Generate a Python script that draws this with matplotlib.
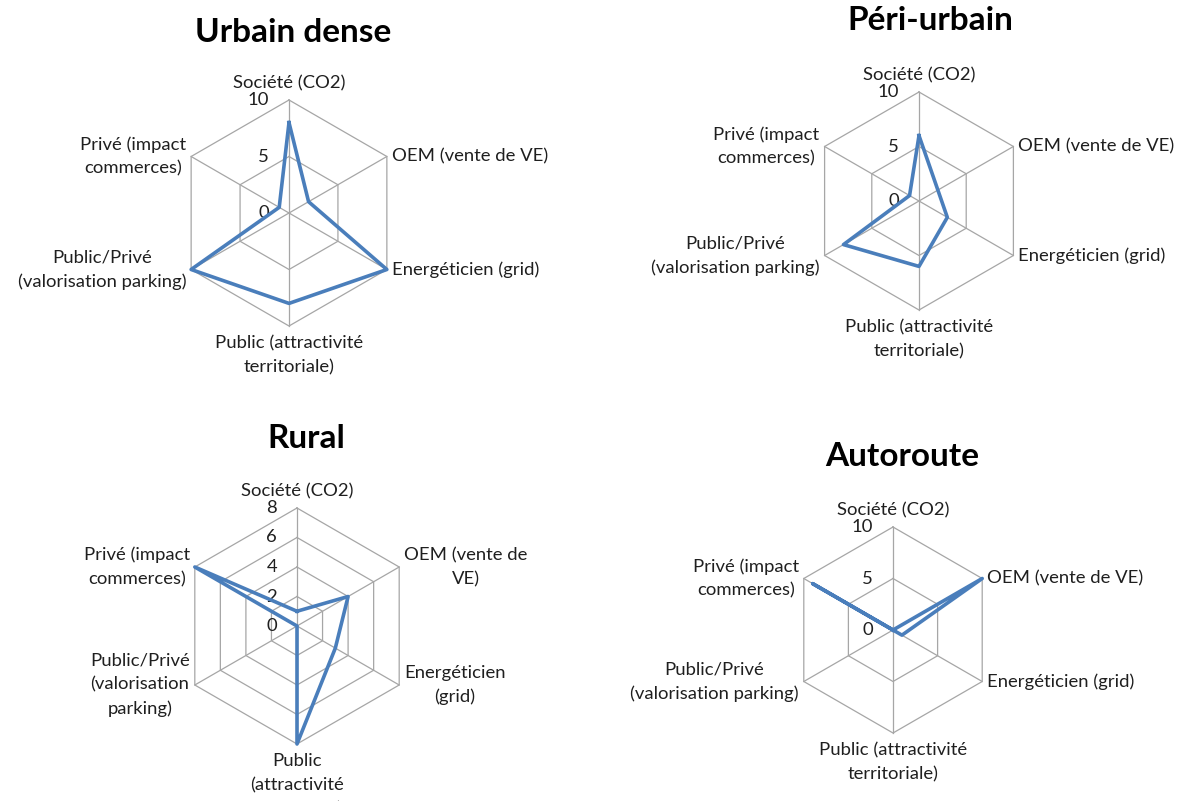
import numpy as np
import matplotlib
matplotlib.use("Agg")
import matplotlib.pyplot as plt

plt.rcParams['font.family'] = ['Lato', 'DejaVu Sans']

# axes, clockwise from the top
categories = ['Société (CO2)', 'OEM (vente de VE)', 'Energéticien (grid)',
              'Public (attractivité\nterritoriale)',
              'Public/Privé\n(valorisation parking)',
              'Privé (impact\ncommerces)']
categories_rural = ['Société (CO2)', 'OEM (vente de\nVE)', 'Energéticien\n(grid)',
                    'Public\n(attractivité\nterritoriale)',
                    'Public/Privé\n(valorisation\nparking)',
                    'Privé (impact\ncommerces)']

urbain_dense = [8, 2, 10, 8, 10, 1]
peri_urbain = [6, 2, 3, 6, 8, 1]
rural = [1, 4, 3, 8, 0, 8]
autoroute = [0, 10, 1, 0, 0, 9]

ticks_10 = [0, 5, 10]
ticks_8 = [0, 2, 4, 6, 8]

W, H = 1182, 801
PT = 0.72  # points per pixel at 100 dpi
LINE = '#4A7EBB'
GRID = '#A6A6A6'
TXT = '#1F1F1F'

fig = plt.figure(figsize=(W / 100, H / 100), dpi=100)
fig.patch.set_facecolor('white')


def radar(cx, cy, r, title, title_xy, labels, values, ticks):
    ax = fig.add_axes([(cx - r) / W, (H - cy - r) / H, 2 * r / W, 2 * r / H],
                      projection='polar')
    ax.set_theta_offset(np.pi / 2)
    ax.set_theta_direction(-1)
    vmax = ticks[-1]
    ax.set_ylim(0, vmax)
    ax.set_axis_off()

    n = len(labels)
    ang = np.linspace(0, 2 * np.pi, n, endpoint=False)
    ang_c = np.append(ang, ang[0])

    # hexagonal rings and spokes
    for t in ticks[1:]:
        ax.plot(ang_c, [t] * (n + 1), color=GRID, lw=0.9, clip_on=False, zorder=1)
    for a in ang:
        ax.plot([a, a], [0, vmax], color=GRID, lw=0.9, clip_on=False, zorder=1)

    v = np.append(values, values[0])
    ax.plot(ang_c, v, color=LINE, lw=2.6, clip_on=False, zorder=3)

    # value scale along the top spoke
    for t in ticks:
        ax.annotate(str(t), xy=(0, t), xytext=(-20 * PT, 0),
                    textcoords='offset points', ha='right', va='center',
                    fontsize=13.3, color=TXT, annotation_clip=False, zorder=2)

    # category labels around the hexagon
    place = [((0, 9), 'center', 'bottom'),
             ((5, 0), 'left', 'center'),
             ((5, 0), 'left', 'center'),
             ((0, -9), 'center', 'top'),
             ((-5, 0), 'right', 'center'),
             ((-5, 0), 'right', 'center')]
    for a, lab, (off, ha, va) in zip(ang, labels, place):
        ax.annotate(lab, xy=(a, vmax), xytext=(off[0] * PT, off[1] * PT),
                    textcoords='offset points', ha=ha, va=va,
                    multialignment='center', linespacing=1.6,
                    fontsize=13.3, color=TXT, annotation_clip=False)

    fig.text(title_xy[0] / W, 1 - title_xy[1] / H, title, ha='center', va='center',
             fontsize=24, fontweight='bold', color='black')


radar(289, 213, 113, 'Urbain dense', (293, 32), categories, urbain_dense, ticks_10)
radar(919, 201, 109, 'Péri-urbain', (930, 20), categories, peri_urbain, ticks_10)
radar(297, 626, 118, 'Rural', (306, 439), categories_rural, rural, ticks_8)
radar(893, 630, 103, 'Autoroute', (902, 457), categories, autoroute, ticks_10)

fig.savefig('out.png', dpi=100)
